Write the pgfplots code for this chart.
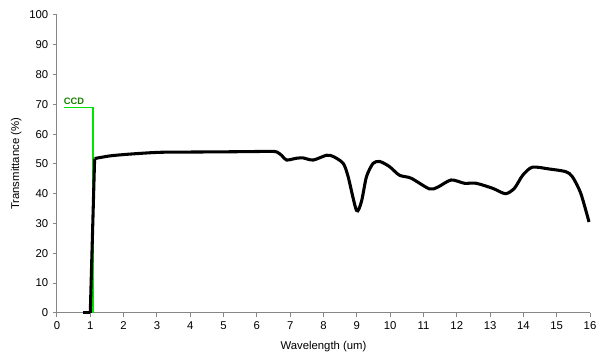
\documentclass[border=0pt]{standalone}
\usepackage{pgfplots}
\pgfplotsset{compat=1.18}
\usepackage{fontspec}
\setmainfont{Liberation Sans}
\definecolor{ccdtext}{rgb}{0.1,0.5,0.0}
\definecolor{ccdline}{rgb}{0.0,0.9,0.0}
\definecolor{axisgray}{rgb}{0.53,0.53,0.53}
\begin{document}
\begin{tikzpicture}
\path (-42.75pt,-37.5pt) rectangle (411.25pt,234.75pt);
\begin{axis}[
  at={(0pt,0pt)}, anchor=origin,
  scale only axis, width=400pt, height=223.5pt,
  xmin=0, xmax=16, ymin=0, ymax=100,
  axis x line*=bottom, axis y line*=left,
  axis line style={axisgray, line width=0.75pt, -},
  xtick={0,1,...,16}, ytick={0,10,...,100},
  tick style={axisgray, line width=0.75pt},
  tick align=outside, major tick length=3pt,
  tick label style={font=\fontsize{8.5}{10}\selectfont, black},
  /pgf/number format/assume math mode=true,
  xlabel={Wavelength (um)}, ylabel={Transmittance (\%)},
  label style={font=\fontsize{8.5}{10}\selectfont},
  xlabel style={yshift=-2pt},
  ylabel style={yshift=-1pt},
  clip=false,
]
\addplot[no markers, draw=ccdline, line width=1.2pt, line join=miter] coordinates {(0.21,69) (1.09,69) (1.09,0)};
\node[anchor=south west, inner sep=0.5pt, font=\bfseries\fontsize{7}{8}\selectfont, text=ccdtext] at (axis cs:0.18,69.5) {CCD};
\addplot[black, line width=2.3pt] coordinates {
(0.79,0) (1.0,0)
};
\addplot[black, line width=2.3pt] coordinates {
(1.0,0) (1.13,51.8)
};
\addplot[black, line width=2.3pt, smooth, tension=0.45] coordinates {
(1.13,51.8) (1.6,52.7) (2.2,53.3) (3.1,53.9) (4.3,54.0) (5.5,54.1) (6.4,54.2) (6.6,54.0)
(6.75,52.8) (6.89,51.3) (7.19,51.9) (7.39,52.0) (7.69,51.3) (8.09,52.9) (8.29,52.5)
(8.59,50.2) (8.74,45.7) (8.99,34.4) (9.14,37.4) (9.29,45.7) (9.49,50.2) (9.69,50.8)
(9.98,49.1) (10.28,46.2) (10.63,45.2) (11.18,41.6) (11.43,42.2) (11.83,44.6) (12.23,43.5)
(12.58,43.5) (13.08,41.8) (13.46,40.0) (13.73,41.8) (13.98,46.2) (14.27,48.9) (14.77,48.3)
(15.27,47.4) (15.47,45.7) (15.72,40.2) (15.97,30.5)
};
\end{axis}
\end{tikzpicture}
\end{document}
